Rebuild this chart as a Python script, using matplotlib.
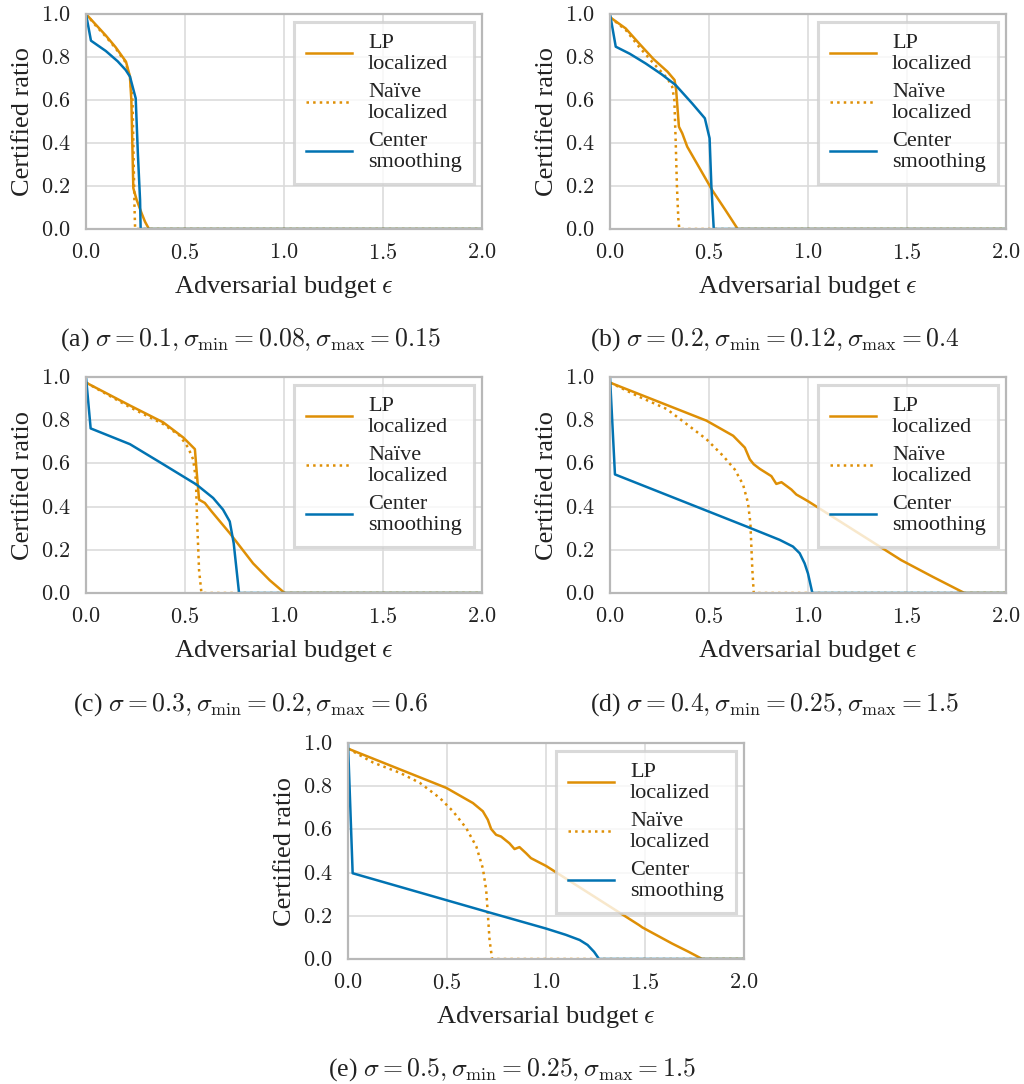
import matplotlib
matplotlib.use("Agg")
import matplotlib.pyplot as plt
from matplotlib.ticker import FuncFormatter

plt.rcParams['font.family'] = ['Liberation Serif', 'DejaVu Serif']
plt.rcParams['mathtext.fontset'] = 'cm'

ORANGE = '#DE8F05'
BLUE = '#0173B2'

# ---- data ----
lp_a_x = [0, 0.05, 0.1, 0.15, 0.202, 0.222, 0.229, 0.239, 0.256, 0.281, 0.298, 0.318, 2.0]
lp_a_y = [1.0, 0.95, 0.9, 0.845, 0.778, 0.709, 0.6, 0.19, 0.135, 0.073, 0.034, 0.0, 0.0]
nv_a_x = [0, 0.05, 0.1, 0.15, 0.2, 0.222, 0.235, 0.24, 0.245, 0.248, 2.0]
nv_a_y = [1.0, 0.945, 0.895, 0.84, 0.775, 0.705, 0.6, 0.35, 0.1, 0.0, 0.0]
cs_a_x = [0, 0.025, 0.1, 0.16, 0.2, 0.222, 0.251, 0.262, 0.273, 0.276, 2.0]
cs_a_y = [1.0, 0.876, 0.828, 0.78, 0.74, 0.709, 0.608, 0.35, 0.135, 0.0, 0.0]

lp_b_x = [0, 0.079, 0.15, 0.22, 0.29, 0.326, 0.334, 0.348, 0.365, 0.39, 0.45, 0.516, 0.583, 0.645, 2.0]
lp_b_y = [0.985, 0.933, 0.86, 0.79, 0.732, 0.693, 0.647, 0.476, 0.445, 0.383, 0.287, 0.181, 0.088, 0.0, 0.0]
nv_b_x = [0, 0.08, 0.146, 0.22, 0.29, 0.314, 0.325, 0.332, 0.338, 0.345, 0.35, 2.0]
nv_b_y = [0.985, 0.925, 0.848, 0.77, 0.7, 0.662, 0.6, 0.4, 0.2, 0.05, 0.0, 0.0]
cs_b_x = [0, 0.029, 0.1, 0.18, 0.26, 0.331, 0.415, 0.479, 0.503, 0.512, 0.524, 2.0]
cs_b_y = [1.0, 0.848, 0.815, 0.77, 0.72, 0.67, 0.584, 0.515, 0.422, 0.2, 0.0, 0.0]

lp_c_x = [0, 0.222, 0.39, 0.491, 0.55, 0.558, 0.571, 0.6, 0.634, 0.726, 0.844, 0.928, 1.003, 2.0]
lp_c_y = [0.974, 0.868, 0.79, 0.72, 0.666, 0.572, 0.432, 0.417, 0.378, 0.277, 0.137, 0.059, 0.0, 0.0]
nv_c_x = [0, 0.222, 0.39, 0.474, 0.516, 0.541, 0.555, 0.561, 0.571, 0.583, 2.0]
nv_c_y = [0.974, 0.86, 0.782, 0.728, 0.673, 0.619, 0.526, 0.339, 0.106, 0.0, 0.0]
cs_c_x = [0, 0.0235, 0.222, 0.39, 0.558, 0.642, 0.692, 0.726, 0.746, 0.773, 2.0]
cs_c_y = [1.0, 0.762, 0.689, 0.596, 0.502, 0.44, 0.386, 0.331, 0.23, 0.0, 0.0]

lp_d_x = [0, 0.487, 0.622, 0.681, 0.706, 0.726, 0.756, 0.815, 0.84, 0.866, 0.916, 0.941, 0.966, 1.0,
          1.471, 1.63, 1.79, 2.0]
lp_d_y = [0.974, 0.798, 0.728, 0.673, 0.619, 0.596, 0.575, 0.541, 0.505, 0.513, 0.479, 0.456, 0.443, 0.425,
          0.152, 0.075, 0.0, 0.0]
nv_d_x = [0, 0.151, 0.286, 0.387, 0.487, 0.571, 0.63, 0.672, 0.697, 0.709, 0.719, 0.726, 2.0]
nv_d_y = [0.974, 0.907, 0.852, 0.782, 0.712, 0.635, 0.572, 0.502, 0.417, 0.323, 0.106, 0.0, 0.0]
cs_d_x = [0, 0.025, 0.689, 0.857, 0.924, 0.958, 0.983, 1.0, 1.022, 2.0]
cs_d_y = [1.0, 0.549, 0.308, 0.246, 0.215, 0.184, 0.137, 0.09, 0.0, 0.0]

lp_e_x = [0, 0.497, 0.631, 0.681, 0.706, 0.723, 0.748, 0.773, 0.815, 0.841, 0.866, 0.899, 0.924, 0.966,
          1.0, 1.47, 1.487, 1.638, 1.721, 1.789, 2.0]
lp_e_y = [0.974, 0.792, 0.722, 0.684, 0.645, 0.602, 0.575, 0.567, 0.536, 0.509, 0.518, 0.49, 0.467, 0.447,
          0.431, 0.157, 0.146, 0.071, 0.033, 0.0, 0.0]
nv_e_x = [0, 0.128, 0.262, 0.362, 0.463, 0.53, 0.597, 0.648, 0.681, 0.698, 0.706, 0.715, 0.728, 2.0]
nv_e_y = [0.974, 0.909, 0.862, 0.816, 0.746, 0.684, 0.606, 0.521, 0.42, 0.319, 0.211, 0.087, 0.0, 0.0]
cs_e_x = [0, 0.0235, 0.7, 1.0, 1.1, 1.17, 1.21, 1.243, 1.268, 2.0]
cs_e_y = [1.0, 0.397, 0.219, 0.141, 0.112, 0.088, 0.065, 0.033, 0.0, 0.0]

labels = ["LP\nlocalized", "Naïve\nlocalized", "Center\nsmoothing"]
xticks = [0.0, 0.5, 1.0, 1.5, 2.0]
yticks = [0.0, 0.2, 0.4, 0.6, 0.8, 1.0]
captions = [
    r"(a) $\sigma = 0.1, \sigma_{\min} = 0.08, \sigma_{\max} = 0.15$",
    r"(b) $\sigma = 0.2, \sigma_{\min} = 0.12, \sigma_{\max} = 0.4$",
    r"(c) $\sigma = 0.3, \sigma_{\min} = 0.2, \sigma_{\max} = 0.6$",
    r"(d) $\sigma = 0.4, \sigma_{\min} = 0.25, \sigma_{\max} = 1.5$",
    r"(e) $\sigma = 0.5, \sigma_{\min} = 0.25, \sigma_{\max} = 1.5$",
]
panels = [
    (lp_a_x, lp_a_y, nv_a_x, nv_a_y, cs_a_x, cs_a_y),
    (lp_b_x, lp_b_y, nv_b_x, nv_b_y, cs_b_x, cs_b_y),
    (lp_c_x, lp_c_y, nv_c_x, nv_c_y, cs_c_x, cs_c_y),
    (lp_d_x, lp_d_y, nv_d_x, nv_d_y, cs_d_x, cs_d_y),
    (lp_e_x, lp_e_y, nv_e_x, nv_e_y, cs_e_x, cs_e_y),
]

W, H = 1024, 1084
fig = plt.figure(figsize=(W / 100, H / 100), dpi=100)

# axes boxes in pixels (left, top, right, bottom)
boxes = [(86, 14, 482, 229), (610, 14, 1006, 229), (86, 377, 482, 593),
         (610, 377, 1006, 593), (348, 743, 744, 959)]
cap_pos = [(250, 340), (775, 340), (251, 705), (775, 705), (512, 1070)]

fmt = FuncFormatter(lambda v, p: f"${v:.1f}$")

for (l, t, r, b), data, cap, (cx, cy) in zip(boxes, panels, captions, cap_pos):
    ax = fig.add_axes([l / W, 1 - b / H, (r - l) / W, (b - t) / H])
    lx, ly, nx, ny, sx, sy = data
    ax.plot(lx, ly, color=ORANGE, lw=1.8, label=labels[0])
    ax.plot(nx, ny, color=ORANGE, lw=1.8, ls=':', label=labels[1])
    ax.plot(sx, sy, color=BLUE, lw=1.8, label=labels[2])
    ax.set_xlim(0, 2.0)
    ax.set_ylim(0, 1.0)
    ax.set_xticks(xticks)
    ax.set_yticks(yticks)
    ax.xaxis.set_major_formatter(fmt)
    ax.yaxis.set_major_formatter(fmt)
    ax.tick_params(labelsize=16, length=0, pad=11, labelcolor='#222222')
    ax.grid(True, color='#dcdcdc', lw=1.2)
    ax.set_axisbelow(True)
    for s in ax.spines.values():
        s.set_color('#b8b8b8')
        s.set_linewidth(1.6)
    ax.set_xlabel(r"Adversarial budget $\epsilon$", fontsize=19, labelpad=7, color='#222222')
    ax.set_ylabel("Certified ratio", fontsize=19, labelpad=5, color='#222222')
    leg = ax.legend(loc='upper right', fontsize=16, frameon=True, fancybox=False,
                    handlelength=2.05, borderaxespad=0.35, labelspacing=0.42,
                    handletextpad=0.72, borderpad=0.56)
    leg.get_frame().set_edgecolor('#d0d0d0')
    leg.get_frame().set_linewidth(2.2)
    leg.get_frame().set_alpha(0.8)
    for txt in leg.get_texts():
        txt.set_linespacing(1.12)
        txt.set_multialignment('left')
        txt.set_color('#222222')
    fig.text(cx / W, 1 - cy / H, cap, fontsize=18.5, ha='center', va='center', color='#222222')

fig.savefig("out.png", dpi=100)
